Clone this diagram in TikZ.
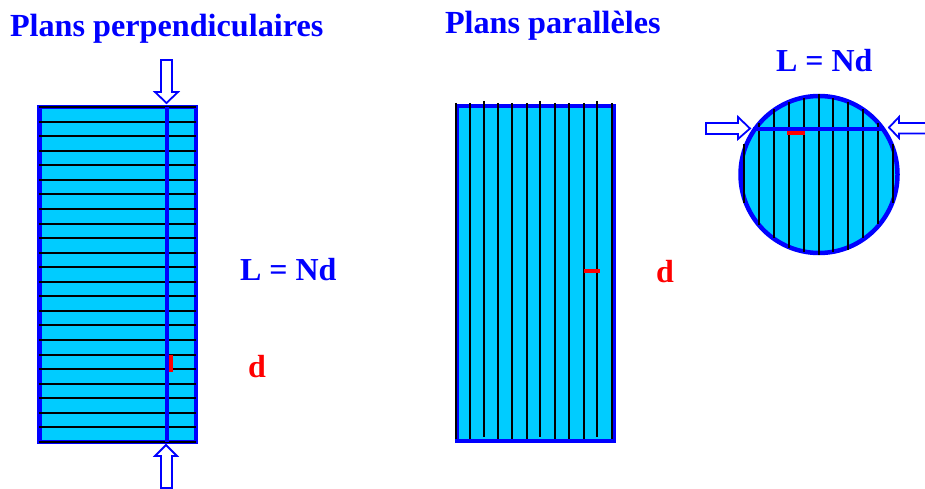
\documentclass[tikz,border=0pt]{standalone}
\usepackage{fontspec}
\setmainfont{Liberation Serif}
\definecolor{cyanfill}{HTML}{00CCFF}
\definecolor{myblue}{HTML}{0000FF}
\definecolor{myred}{HTML}{FF0000}
\tikzset{
  lbl/.style={anchor=base west,inner sep=0pt,outer sep=0pt,font=\fontsize{32}{36}\selectfont\bfseries},
  bluelbl/.style={lbl,text=myblue},
  redlbl/.style={lbl,text=myred},
  hollow/.style={draw=myblue,fill=white,line width=1.8pt,line join=miter},
  outline/.style={draw=myblue,fill=cyanfill,line width=4.5pt},
  thinline/.style={draw=black,line width=1.8pt},
  beam/.style={draw=myblue,line width=4pt},
  gapmark/.style={draw=myred,line width=4pt}
}
\begin{document}
\begin{tikzpicture}[x=1pt,y=-1pt]
\useasboundingbox (0,0) rectangle (925,489);
% left block
\path[outline] (39.5,107) rectangle (196,442);
\foreach \i in {0,...,23}{
  \pgfmathsetmacro{\yy}{round(107+\i*14.565)}
  \draw[thinline] (39,\yy) -- (196,\yy);
}
\draw[beam] (166.7,107) -- (166.7,442);
\draw[gapmark] (171,355) -- (171,372);
% left arrows
\path[hollow] (161,60) -- (172,60) -- (172,92) -- (178,92) -- (166.5,103) -- (155,92) -- (161,92) -- cycle;
\path[hollow] (161,488) -- (172,488) -- (172,456) -- (177,456) -- (166,445) -- (155,456) -- (161,456) -- cycle;
% middle block
\path[outline] (457,106) rectangle (613.5,441);
\foreach \x in {456,470,498,512,527,555,569,584,612}{
  \draw[thinline] (\x,103) -- (\x,439);
}
\foreach \x in {484,540,597}{
  \draw[thinline] (\x,101) -- (\x,437);
}
\draw[gapmark] (584,271) -- (600,271);
% circle
\path[outline] (819,174.5) circle (78.5);
\draw[thinline] (744,144) -- (744,203);
\draw[thinline] (759,123) -- (759,225);
\draw[thinline] (774,109) -- (774,238);
\draw[thinline] (789,102) -- (789,248);
\draw[thinline] (804,98) -- (804,252);
\draw[thinline] (819,94) -- (819,255);
\draw[thinline] (833,98) -- (833,252);
\draw[thinline] (848,102) -- (848,250);
\draw[thinline] (863,109) -- (863,238);
\draw[thinline] (878,123) -- (878,224);
\draw[thinline] (893,144) -- (893,203);
\draw[beam] (753,129) -- (883,129);
\draw[gapmark] (787,133) -- (805,133);
% circle arrows
\path[hollow] (706,123) -- (738,123) -- (738,117) -- (750,128.5) -- (738,139) -- (738,134) -- (706,134) -- cycle;
\path[hollow] (926,123) -- (899,123) -- (899,117) -- (889,127.5) -- (899,138) -- (899,133.5) -- (926,133.5);
% labels
\node[bluelbl,font=\fontsize{32.2}{36}\selectfont\bfseries] (t1) at (10,37) {Plans perpendiculaires};
\node[bluelbl,font=\fontsize{32.2}{36}\selectfont\bfseries] (t2) at (445,34) {Plans parallèles};
\node[bluelbl] (t3) at (776,72) {L = Nd};
\node[bluelbl] (t4) at (240,280) {L = Nd};
\node[redlbl] (d1) at (248,377) {d};
\node[redlbl] (d2) at (656,282) {d};
\end{tikzpicture}
\end{document}
